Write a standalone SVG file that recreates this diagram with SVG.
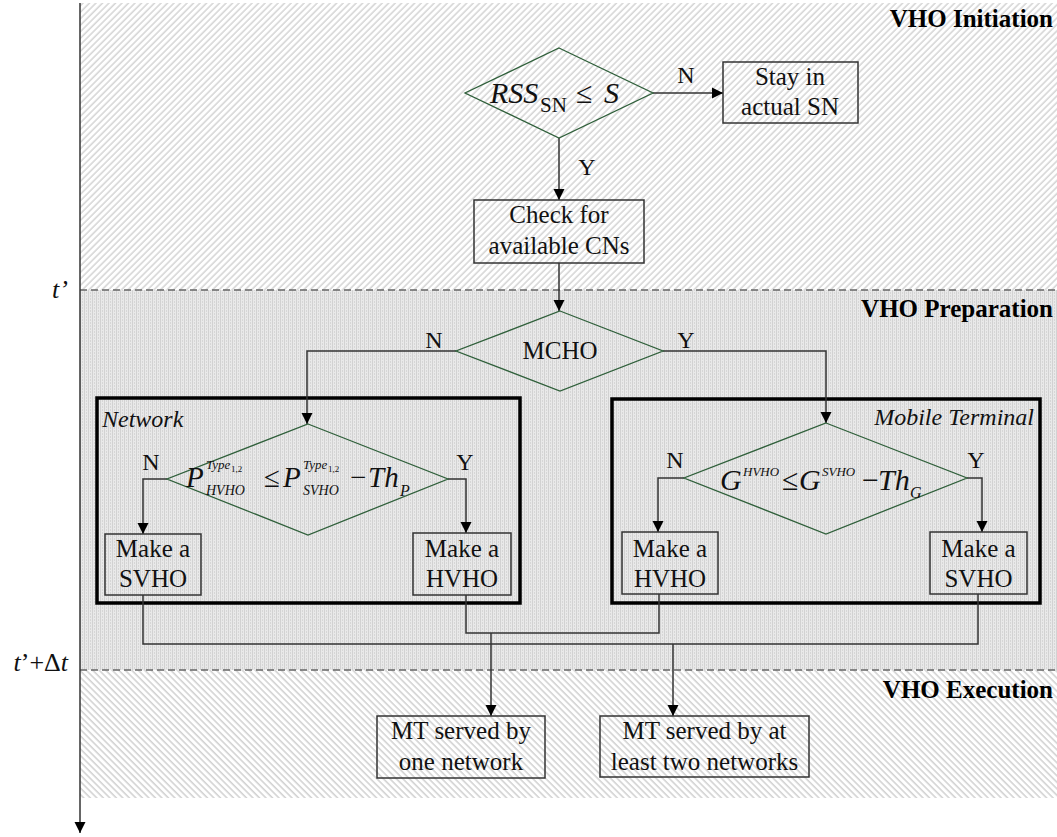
<svg xmlns="http://www.w3.org/2000/svg" width="1057" height="837" viewBox="0 0 1057 837">
<style>
.t{font-family:"Liberation Serif","Times New Roman",serif;font-size:25px;fill:#111;text-anchor:middle}
.yn{font-family:"Liberation Serif","Times New Roman",serif;font-size:24px;fill:#111;text-anchor:middle}
.ph{font-family:"Liberation Serif","Times New Roman",serif;font-size:25px;font-weight:bold;fill:#000;text-anchor:end}
.it{font-style:italic}
.m{font-family:"Liberation Serif","Times New Roman",serif;fill:#111}
.box{fill:none;stroke:#333;stroke-width:1.5}
.dia{fill:none;stroke:#2f5f3a;stroke-width:1.3}
.frame{fill:none;stroke:#000;stroke-width:3.5}
.con{fill:none;stroke:#333;stroke-width:1.5}
.dash{stroke:#666;stroke-width:1.5;stroke-dasharray:7 4}
</style>
<defs>
<marker id="ah" markerUnits="userSpaceOnUse" markerWidth="12" markerHeight="12" viewBox="0 0 12 12" refX="11" refY="6" orient="auto">
<path d="M0,0.5 L11,6 L0,11.5 Z" fill="#000"/>
</marker>
<pattern id="hatchA" patternUnits="userSpaceOnUse" width="4.6" height="8" patternTransform="rotate(45)">
<line x1="1" y1="0" x2="1" y2="8" stroke="#bdbdbd" stroke-width="1"/>
</pattern>
<pattern id="hatchB" patternUnits="userSpaceOnUse" width="4.6" height="8" patternTransform="rotate(-45)">
<line x1="1" y1="0" x2="1" y2="8" stroke="#b8b8b8" stroke-width="1"/>
</pattern>
<pattern id="dots" patternUnits="userSpaceOnUse" width="4" height="3">
<rect width="4" height="3" fill="#e9e9e9"/>
<rect x="0" y="0" width="1" height="3" fill="#d2d2d2"/>
<rect x="2" y="1.5" width="1" height="1" fill="#c4c4c4"/>
</pattern>
</defs>

<g id="background">
<rect x="80" y="3" width="977" height="287" fill="url(#hatchA)"/>
<rect x="80" y="290" width="977" height="380" fill="url(#dots)"/>
<rect x="80" y="670" width="977" height="128" fill="url(#hatchB)"/>
<line class="dash" x1="80" y1="290" x2="1057" y2="290"/>
<line class="dash" x1="80" y1="670" x2="1057" y2="670"/>
</g>

<g id="time-axis">
<line x1="80" y1="3" x2="80" y2="833" stroke="#333" stroke-width="1.5" marker-end="url(#ah)"/>
<text class="m it" x="68" y="298" font-size="26" text-anchor="end">t’</text>
<text class="m" x="68" y="671" font-size="26" text-anchor="end"><tspan class="it">t</tspan>’+Δ<tspan class="it">t</tspan></text>
</g>

<g id="phase-labels">
<text class="ph" x="1053" y="27">VHO Initiation</text>
<text class="ph" x="1053" y="317">VHO Preparation</text>
<text class="ph" x="1053" y="698">VHO Execution</text>
</g>

<g id="frames">
<rect class="frame" x="97" y="398" width="423" height="205"/>
<text class="m it" x="102" y="427" font-size="24">Network</text>
<rect class="frame" x="612" y="399" width="428" height="204"/>
<text class="m it" x="1034" y="425" font-size="24" text-anchor="end">Mobile Terminal</text>
</g>

<g id="connectors">
<line class="con" x1="653" y1="93" x2="723" y2="93" marker-end="url(#ah)"/>
<line class="con" x1="559" y1="138" x2="559" y2="200" marker-end="url(#ah)"/>
<line class="con" x1="559" y1="263" x2="559" y2="311" marker-end="url(#ah)"/>
<polyline class="con" points="456,351 307,351 307,424" marker-end="url(#ah)"/>
<polyline class="con" points="663,351 826,351 826,423" marker-end="url(#ah)"/>
<polyline class="con" points="167,479 143,479 143,534" marker-end="url(#ah)"/>
<polyline class="con" points="448,479 466,479 466,533" marker-end="url(#ah)"/>
<polyline class="con" points="684,478 658,478 658,532" marker-end="url(#ah)"/>
<polyline class="con" points="967,478 982,478 982,532" marker-end="url(#ah)"/>
<polyline class="con" points="143,595 143,644 978,644 978,594"/>
<polyline class="con" points="466,595 466,633 659,633 659,594"/>
<line class="con" x1="491" y1="633" x2="491" y2="716" marker-end="url(#ah)"/>
<line class="con" x1="673" y1="644" x2="673" y2="716" marker-end="url(#ah)"/>
<text class="yn" x="686" y="83">N</text>
<text class="yn" x="587" y="175">Y</text>
<text class="yn" x="434" y="348">N</text>
<text class="yn" x="686" y="348">Y</text>
<text class="yn" x="151" y="470">N</text>
<text class="yn" x="465" y="470">Y</text>
<text class="yn" x="675" y="468">N</text>
<text class="yn" x="976" y="468">Y</text>
</g>

<g id="rss-decision">
<polygon class="dia" points="559,48 653,93 559,138 465,93"/>
<text class="m" y="103" font-size="30"><tspan class="it" x="490">RSS</tspan><tspan x="540" dy="9" font-size="21">SN</tspan><tspan x="576" dy="-9" font-size="30">≤</tspan><tspan class="it" x="604">S</tspan></text>
</g>

<g id="stay-in-sn">
<rect class="box" x="723" y="62" width="135" height="61"/>
<text class="t" x="790" y="85">Stay in</text>
<text class="t" x="790" y="115">actual SN</text>
</g>

<g id="check-cns">
<rect class="box" x="474" y="200" width="170" height="63"/>
<text class="t" x="559" y="223">Check for</text>
<text class="t" x="559" y="254">available CNs</text>
</g>

<g id="mcho-decision">
<polygon class="dia" points="560,311 663,351 560,391 456,351"/>
<text class="t" x="560" y="359">MCHO</text>
</g>

<g id="network-decision">
<polygon class="dia" points="308,424 448,479 308,535 167,479"/>
<text class="m" font-size="29"><tspan class="it" x="186" y="487">P</tspan><tspan class="it" x="206" y="469" font-size="13">Type</tspan><tspan x="231" y="472" font-size="9">1,2</tspan><tspan class="it" x="206" y="495" font-size="14">HVHO</tspan><tspan x="264" y="487">≤</tspan><tspan class="it" x="283" y="487">P</tspan><tspan class="it" x="303" y="469" font-size="13">Type</tspan><tspan x="328" y="472" font-size="9">1,2</tspan><tspan class="it" x="303" y="495" font-size="14">SVHO</tspan><tspan x="350" y="487">−</tspan><tspan class="it" x="368" y="487">Th</tspan><tspan class="it" x="400" y="496" font-size="16">P</tspan></text>
</g>

<g id="mt-decision">
<polygon class="dia" points="826,423 967,478 826,534 684,478"/>
<text class="m" font-size="30"><tspan class="it" x="720" y="490">G</tspan><tspan class="it" x="743" y="476" font-size="13">HVHO</tspan><tspan x="782" y="490">≤</tspan><tspan class="it" x="799" y="490">G</tspan><tspan class="it" x="822" y="476" font-size="13">SVHO</tspan><tspan x="862" y="490">−</tspan><tspan class="it" x="878" y="490">Th</tspan><tspan class="it" x="910" y="498" font-size="16">G</tspan></text>
</g>

<g id="net-svho">
<rect class="box" x="105" y="534" width="96" height="61"/>
<text class="t" x="153" y="557">Make a</text>
<text class="t" x="153" y="587">SVHO</text>
</g>

<g id="net-hvho">
<rect class="box" x="413" y="533" width="98" height="62"/>
<text class="t" x="462" y="557">Make a</text>
<text class="t" x="462" y="587">HVHO</text>
</g>

<g id="mt-hvho">
<rect class="box" x="622" y="532" width="96" height="62"/>
<text class="t" x="670" y="557">Make a</text>
<text class="t" x="670" y="587">HVHO</text>
</g>

<g id="mt-svho">
<rect class="box" x="930" y="532" width="97" height="62"/>
<text class="t" x="978.5" y="557">Make a</text>
<text class="t" x="978.5" y="587">SVHO</text>
</g>

<g id="one-network">
<rect class="box" x="377" y="716" width="168" height="62"/>
<text class="t" x="461" y="739">MT served by</text>
<text class="t" x="461" y="770">one network</text>
</g>

<g id="two-networks">
<rect class="box" x="600" y="716" width="209" height="61"/>
<text class="t" x="704.5" y="739">MT served by at</text>
<text class="t" x="704.5" y="770">least two networks</text>
</g>
</svg>
